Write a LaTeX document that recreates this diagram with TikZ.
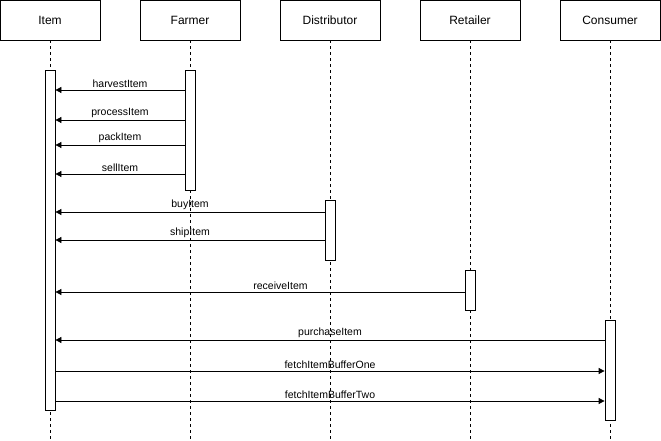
\documentclass[tikz,border=0pt]{standalone}
\usepackage{fontspec}
\setmainfont{Liberation Sans}
\usetikzlibrary{arrows.meta}
\begin{document}
\begin{tikzpicture}[x=1pt,y=-1pt,
  actor/.style={draw,line width=0.8pt,minimum width=100pt,minimum height=40pt,inner sep=0pt,font=\fontsize{12}{14}\selectfont},
  life/.style={dashed,line width=0.7pt,dash pattern=on 3pt off 3pt},
  act/.style={draw,fill=white,line width=0.8pt,minimum width=10pt,inner sep=0pt},
  msg/.style={-{Triangle[length=6pt,width=6pt]},line width=0.8pt},
  lbl/.style={font=\fontsize{10.5}{12}\selectfont,above,inner sep=2pt}]
\useasboundingbox (0,0) rectangle (661,441);
% participants
\foreach \n/\t/\x in {item/Item/50,farmer/Farmer/190,dist/Distributor/330,ret/Retailer/470,cons/Consumer/610}{
  \node[actor] (\n) at (\x,20) {\t};
  \coordinate (\n-end) at (\x,441);
  \draw[life] (\n.south) -- (\n-end);
}
% activation bars
\node[act,minimum height=340pt] (aitem) at (50,240) {};
\node[act,minimum height=120pt] (afarm) at (190,130) {};
\node[act,minimum height=60pt] (adist) at (330,230) {};
\node[act,minimum height=40pt] (aret) at (470,290) {};
\node[act,minimum height=100pt] (acons) at (610,370) {};
% messages
\foreach \y/\t in {90/harvestItem,120/processItem,145/packItem,174/sellItem}
  \draw[msg] (afarm.west |- 0,\y) -- node[lbl]{\t} (aitem.east |- 0,\y);
\foreach \y/\t in {212/buyItem,240/shipItem}
  \draw[msg] (adist.west |- 0,\y) -- node[lbl]{\t} (aitem.east |- 0,\y);
\draw[msg] (aret.west |- 0,292) -- node[lbl,pos=0.45]{receiveItem} (aitem.east |- 0,292);
\draw[msg] (acons.west |- 0,340) -- node[lbl]{purchaseItem} (aitem.east |- 0,340);
\foreach \y/\t in {371/fetchItemBufferOne,401/fetchItemBufferTwo}
  \draw[msg] (aitem.east |- 0,\y) -- node[lbl]{\t} (acons.west |- 0,\y);
\end{tikzpicture}
\end{document}
